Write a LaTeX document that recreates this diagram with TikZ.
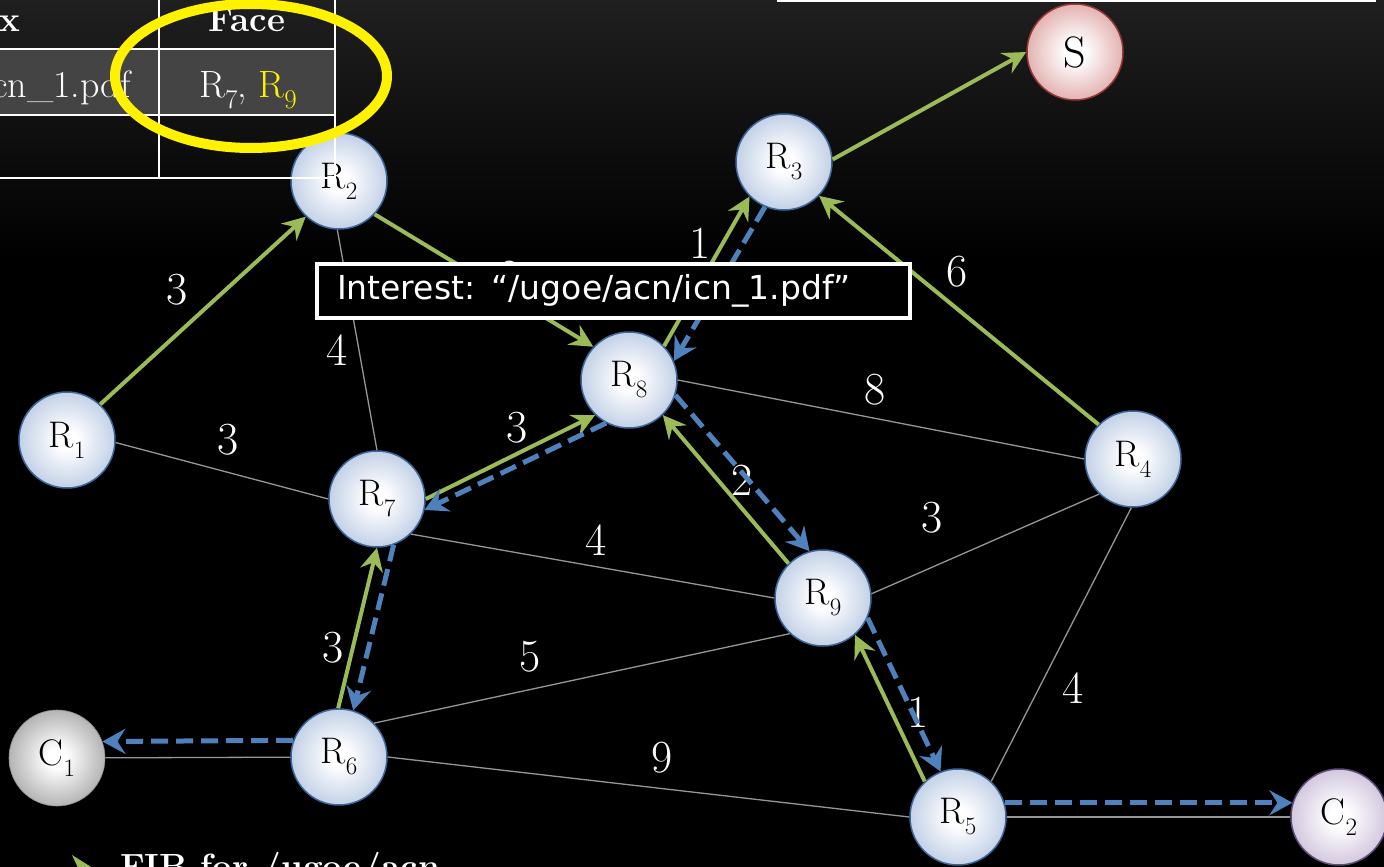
\documentclass[tikz,border=0pt]{standalone}
\usepackage{fontspec}
\usepackage{graphicx}
\usetikzlibrary{arrows.meta,shapes.geometric,calc}
\newfontfamily\boxfont{DejaVu Sans}
\definecolor{grn}{HTML}{9BBB59}
\definecolor{blu}{HTML}{4F81BD}
\definecolor{nodeedge}{HTML}{3B6698}
\definecolor{nodeout}{HTML}{C3D1E7}
\definecolor{cgray}{HTML}{B4B4B4}
\definecolor{cgrayedge}{HTML}{8C8C8C}
\definecolor{spink}{HTML}{E3B3B2}
\definecolor{sedge}{HTML}{953735}
\definecolor{clav}{HTML}{D3C8DF}
\definecolor{cedge}{HTML}{604A7B}
\definecolor{edgegray}{HTML}{969696}
\definecolor{rowgray}{HTML}{444444}
\definecolor{bgtop}{HTML}{1F1F1F}
\pgfdeclareradialshading{shR}{\pgfpoint{0bp}{0bp}}{color(0bp)=(white); color(5bp)=(white); color(25bp)=(nodeout); color(50bp)=(nodeout)}
\pgfdeclareradialshading{shC}{\pgfpoint{0bp}{0bp}}{color(0bp)=(white); color(5bp)=(white); color(25bp)=(cgray); color(50bp)=(cgray)}
\pgfdeclareradialshading{shS}{\pgfpoint{0bp}{0bp}}{color(0bp)=(white); color(5bp)=(white); color(25bp)=(spink); color(50bp)=(spink)}
\pgfdeclareradialshading{shL}{\pgfpoint{0bp}{0bp}}{color(0bp)=(white); color(5bp)=(white); color(25bp)=(clav); color(50bp)=(clav)}
\newcommand\nsub[1]{\raisebox{-0.3em}{\fontsize{25}{25}\selectfont #1}}
\newcommand\csub[1]{\raisebox{-0.3em}{\fontsize{27}{27}\selectfont #1}}
\begin{document}
\begin{tikzpicture}[x=1pt,y=-1pt,
  nodebase/.style={circle, minimum size=96pt, inner sep=0pt, line width=1.5pt, shade, text=black, font=\fontsize{37}{40}\selectfont},
  router/.style={nodebase, draw=nodeedge, shading=shR},
  client/.style={nodebase, draw=cgrayedge, line width=0.6pt, shading=shC},
  lavnode/.style={nodebase, draw=cedge, shading=shL},
  srvnode/.style={nodebase, draw=sedge, shading=shS, font=\fontsize{44}{44}\selectfont},
  link/.style={draw=edgegray, line width=1.3pt},
  garr/.style={draw=grn, line width=4pt, -{Stealth[length=23pt,width=23pt,inset=8pt]}},
  barr/.style={draw=blu, line width=5pt, dash pattern=on 17pt off 8pt, -{Stealth[length=23pt,width=25pt,inset=8pt]}},
  wl/.style={text=white, inner sep=0pt, font=\fontsize{46}{46}\selectfont},
  tbl/.style={draw=white, line width=2pt},
  hdr/.style={text=white, inner sep=0pt, font=\bfseries\fontsize{35}{35}\selectfont},
  cell/.style={text=white, inner sep=0pt, font=\fontsize{38}{38}\selectfont}]
\useasboundingbox (0,0) rectangle (1384,867);
\clip (0,0) rectangle (1384,867);
\fill[black] (0,0) rectangle (1384,867);
\shade[top color=bgtop, bottom color=black] (0,0) rectangle (1384,260);
% top-right box edge
\draw[white, line width=2.5pt] (778,-30) rectangle (1375,0.5);
% nodes
\node[router] (R1) at (67,440) {R\nsub{1}};
\node[router] (R2) at (339,181) {R\nsub{2}};
\node[router] (R3) at (784,162) {R\nsub{3}};
\node[router] (R4) at (1133,459) {R\nsub{4}};
\node[router] (R5) at (958,817) {R\nsub{5}};
\node[router] (R6) at (339,757) {R\nsub{6}};
\node[router] (R7) at (377,499) {R\nsub{7}};
\node[router] (R8) at (629,380) {R\nsub{8}};
\node[router] (R9) at (823,598) {R\nsub{9}};
\node[client] (C1) at (57,758) {C\nsub{1}};
\node[lavnode] (C2) at (1339,817) {C\nsub{2}};
\node[srvnode] (S) at (1075,52) {S};
% gray links
\draw[link] (R2.268) -- (R7.90);
\draw[link] (R1.-3) -- (R7.180);
\draw[link] (R7.-46) -- (R9.180);
\draw[link] (R6.44) -- (R9.227);
\draw[link] (R6.0) -- (R5.180);
\draw[link] (R8.0) -- (R4.180);
\draw[link] (R9.5) -- (R4.226);
\draw[link] (R4.268) -- (R5.47);
\draw[link] (C1) -- (R6);
\draw[link] (R5) -- (C2);
% weights
\node[wl] (w1) at (177,290) {3};
\node[wl] (w2) at (510,276) {2};
\node[wl] (w3) at (337,350) {4};
\node[wl] (w4) at (700,243) {1};
\node[wl] (w5) at (957,272) {6};
\node[wl] (w6) at (875,390) {8};
\node[wl] (w7) at (228,440) {3};
\node[wl] (w8) at (517,428) {3};
\node[wl] (w9) at (742,480) {2};
\node[wl] (w10) at (932,518) {3};
\node[wl] (w11) at (596,540) {4};
\node[wl] (w12) at (333,648) {3};
\node[wl] (w13) at (530,657) {5};
\node[wl] (w14) at (918,712) {1};
\node[wl] (w15) at (1073,688) {4};
\node[wl] (w16) at (662,758) {9};
% green interest path
\draw[garr] (R1.47) -- (R2.227);
\draw[garr] (R2.317) -- (R8.137);
\draw[garr] (R8.44) -- (R3.225);
\draw[garr] (R4.135) -- (R3.316);
\draw[garr] (R3.3) -- (S.west);
\draw[garr] (R7.0) -- (R8.226);
\draw[garr] (R9.135) -- (R8.314);
\draw[garr] (R6.91) -- (R7.270);
\draw[garr] (R5.133) -- (R9.311);
% blue data path
\draw[barr] (R3.247) -- (R8.23);
\draw[barr] (R8.242) -- (R7.-13);
\draw[barr] (R8.-18) -- (R9.106);
\draw[barr] (R7.290) -- (R6.73);
\draw[barr] (R9.-24) -- (R5.111);
\draw[barr] (R6.160) -- (C1.20);
\draw[barr] (R5.17) -- (C2.163);
% interest box
\node[draw=white, line width=4pt, fill=black, text=white, anchor=west,
      minimum height=54pt, inner xsep=20pt, inner ysep=0pt, text width=553pt, align=left,
      font=\boxfont\fontsize{33}{36}\selectfont] (int) at (315,291) {Interest: “/ugoe/acn/icn\_1.pdf”};
% table
\fill[rowgray] (-10,49) rectangle (335,115);
\draw[tbl] (-10,49) -- (335,49);
\draw[tbl] (-10,115) -- (335,115);
\draw[tbl] (-10,178) -- (335,178);
\draw[tbl] (159,-5) -- (159,178);
\draw[tbl] (335,-5) -- (335,178);
\node[hdr, anchor=base east] (hp) at (20,32) {Prefix};
\node[hdr, anchor=base] (hf) at (247,32) {Face};
\node[cell, anchor=base east] (cp) at (131,97) {/ugoe/acn/icn\_1.pdf};
\node[cell, anchor=base] (cf) at (248,97) {R\csub{7}, \textcolor{yellow}{R\csub{9}}};
% highlight ellipse
\draw[yellow, line width=10pt] (251,76) ellipse [x radius=136, y radius=72];
% legend
\fill[grn] (72,855) -- (96,870) -- (72,885) -- (79,870) -- cycle;
\node[hdr, anchor=base west] (leg) at (120,878) {FIB for /ugoe/acn};
\end{tikzpicture}
\end{document}
